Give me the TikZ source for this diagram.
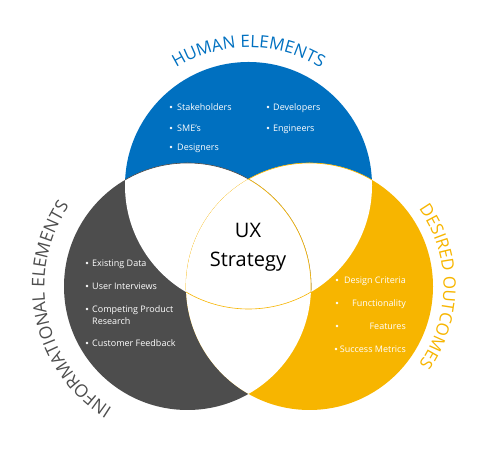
\documentclass[tikz,border=0pt]{standalone}
\usepackage{fontspec}
\setmainfont{Open Sans}
\usepackage{tikz}
\usetikzlibrary{decorations.text}
\definecolor{hublue}{HTML}{0070C0}
\definecolor{infgray}{HTML}{4D4D4D}
\definecolor{outyellow}{HTML}{F7B500}
\newcommand{\vennr}{123.5}
\tikzset{item/.style={text=white,font=\fontsize{9}{10}\selectfont,inner sep=0pt,anchor=base west}}
\tikzset{ritem/.style={item,anchor=base east}}
\tikzset{dot/.style={circle,fill=white,inner sep=0pt,minimum size=2.8pt}}
\tikzset{ring/.style={line width=0.6pt}}
\tikzset{arctext/.style={decorate,decoration={text along path,text align=center,text color=#1}}}

\begin{document}
\begin{tikzpicture}[x=1pt,y=1pt]
            \useasboundingbox (0,0) rectangle (501,470);
            % centres of the circles
            \coordinate (hum) at (248.5,284.5);
            \coordinate (inf) at (187.5,183.5);
            \coordinate (out) at (309.5,183.5);
            % coloured discs
            \fill[hublue] (hum) circle (\vennr);
            \fill[infgray] (inf) circle (\vennr);
            \fill[outyellow] (out) circle (\vennr);
            % overlaps are white
            \begin{scope}
                \clip (hum) circle (\vennr);
                \fill[white] (inf) circle (\vennr);
                \fill[white] (out) circle (\vennr);
                \draw[ring,infgray] (inf) circle (\vennr);
                \draw[ring,outyellow] (out) circle (\vennr);
            \end{scope}
            \begin{scope}
                \clip (inf) circle (\vennr);
                \fill[white] (out) circle (\vennr);
            \end{scope}
            % outline of the middle part
            \begin{scope}
                \clip (hum) circle (\vennr);
                \clip (out) circle (\vennr);
                \draw[ring,outyellow] (inf) circle (\vennr);
            \end{scope}
            \begin{scope}
                \clip (inf) circle (\vennr);
                \clip (out) circle (\vennr);
                \draw[ring,outyellow] (hum) circle (\vennr);
            \end{scope}

            \node[align=center,font=\fontsize{20}{29}\selectfont] (ux) at (248,222.5) {UX\\Strategy};

            % titles along the circles
            \path[arctext=hublue,decoration={text={|\fontsize{17}{17}\selectfont|HUMAN ELEMENTS}}]
                (hum) ++(150:138) arc (150:30:138);
            \path[arctext=infgray,decoration={text={|\fontsize{17.5}{17.5}\selectfont|INFORMATIONAL ELEMENTS}}]
                (inf) ++(282:143) arc (282:102:143);
            \path[arctext=outyellow,decoration={text={|\fontsize{17}{17}\selectfont|DESIRED OUTCOMES}}]
                (out) ++(70:134) arc (70:-70:134);

            % human elements
            \node[dot] (hb1) at (171,363) {};
            \node[item] (h1) at (177,359.5) {Stakeholders};
            \node[dot] (hb2) at (171,342) {};
            \node[item] (h2) at (177,338.5) {SME's};
            \node[dot] (hb3) at (171,323) {};
            \node[item] (h3) at (177,319.5) {Designers};
            \node[dot] (hb4) at (268,363) {};
            \node[item] (h4) at (273,359.5) {Developers};
            \node[dot] (hb5) at (268,342) {};
            \node[item] (h5) at (273,338.5) {Engineers};

            % informational elements
            \node[dot] (ib1) at (87,207) {};
            \node[item] (i1) at (92,203.5) {Existing Data};
            \node[dot] (ib2) at (87,184) {};
            \node[item] (i2) at (92,180.5) {User Interviews};
            \node[dot] (ib3) at (87,161) {};
            \node[item] (i3) at (92,157.5) {Competing Product};
            \node[item] (i3b) at (92,145.5) {Research};
            \node[dot] (ib4) at (87,127) {};
            \node[item] (i4) at (92,123.5) {Customer Feedback};

            % desired outcomes
            \node[dot] (ob1) at (337,190) {};
            \node[ritem] (o1) at (406,186.5) {Design Criteria};
            \node[dot] (ob2) at (337,167) {};
            \node[ritem] (o2) at (406,163.5) {Functionality};
            \node[dot] (ob3) at (337,144) {};
            \node[ritem] (o3) at (406,140.5) {Features};
            \node[dot] (ob4) at (336,121) {};
            \node[ritem] (o4) at (406,117.5) {Success Metrics};
        \end{tikzpicture}
\end{document}
